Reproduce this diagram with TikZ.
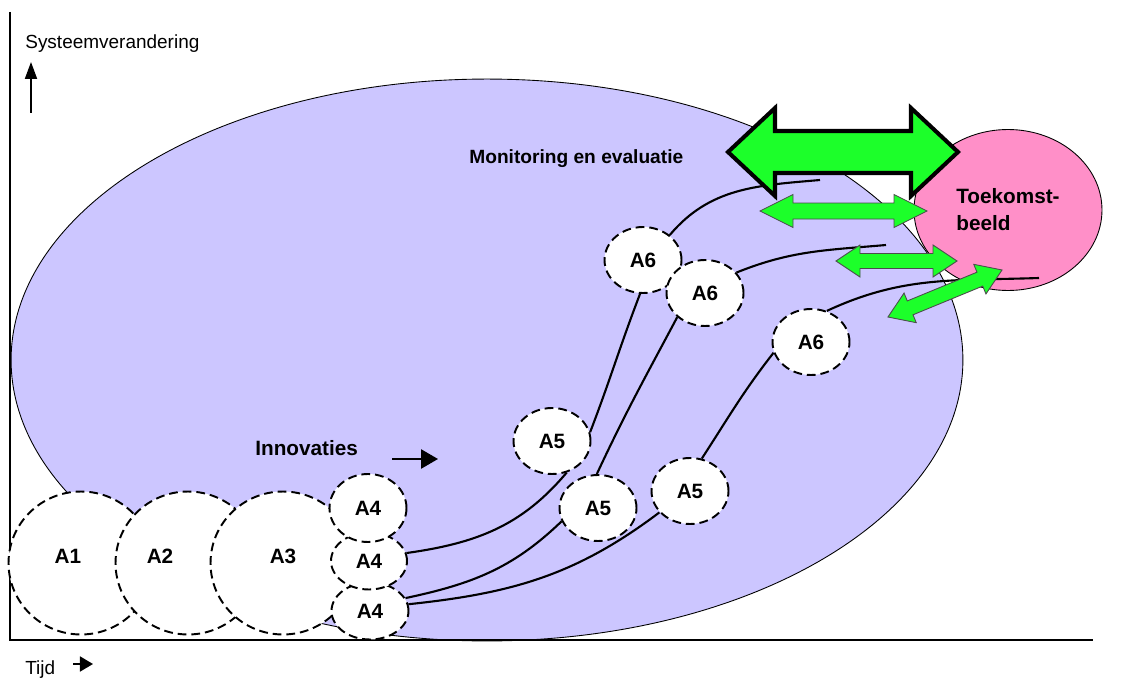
\documentclass[tikz,border=0pt]{standalone}
\usepackage{fontspec}
\setmainfont{Liberation Sans}
\usetikzlibrary{shapes.geometric, arrows.meta}

\definecolor{lilac}{RGB}{204,198,255}
\definecolor{rose}{RGB}{255,143,200}
\definecolor{neon}{RGB}{28,255,42}

% double headed block arrow: [style]{centre}{angle}{half length}{head length}{head half width}{shaft half width}
\newcommand{\dblarrow}[7][]{%
  \begin{scope}[shift={(#2)}, rotate=#3]
    \draw[#1] (-#4,0) -- ({-#4+#5},#6) -- ({-#4+#5},#7) -- ({#4-#5},#7) -- ({#4-#5},#6) -- (#4,0)
      -- ({#4-#5},-#6) -- ({#4-#5},-#7) -- ({-#4+#5},-#7) -- ({-#4+#5},-#6) -- cycle;
  \end{scope}}

\begin{document}
\begin{tikzpicture}[x=0.02cm, y=-0.02cm,
  act/.style={ellipse, draw, fill=white, line width=1.1pt, dash pattern=on 5pt off 2.8pt,
    inner sep=0pt, font=\fontsize{11.8}{14}\selectfont\bfseries},
  circbig/.style={act, minimum width=2.9cm, minimum height=2.86cm},
  circsmall/.style={act, minimum width=1.54cm, minimum height=1.32cm},
  lbl/.style={font=\fontsize{11.8}{14}\selectfont\bfseries},
  txt/.style={font=\fontsize{10.8}{13}\selectfont, anchor=base west, inner sep=0pt},
  axisline/.style={line width=1.6pt},
  track/.style={line width=1.2pt},
  greenarrow/.style={fill=neon, draw=black!70, line width=0.5pt},
  bigarrow/.style={fill=neon, draw=black, line width=2.3pt, line join=miter}]

  \useasboundingbox (0,0) rectangle (1123,679);

  \coordinate (o) at (10,640); % origin
  \coordinate (ytop) at (10,12); % top of vertical axis
  \coordinate (xend) at (1093,640); % end of time axis
  \coordinate (e1) at (820,180); % ends of the transition paths
  \coordinate (e2) at (886,245);
  \coordinate (e3) at (1039,278);

  % system field and future image
  \draw[fill=lilac, line width=0.5pt] (487,360) ellipse [x radius=9.52cm, y radius=5.62cm];
  \node[ellipse, draw, fill=rose, line width=0.5pt, minimum width=3.76cm, minimum height=3.22cm,
    inner sep=0pt, align=left, font=\fontsize{11.8}{15.3}\selectfont\bfseries] (tb) at (1008,210) {Toekomst-\\beeld};

  % axes
  \draw[axisline] (ytop) -- (o) -- (xend);
  \node[txt] (sv) at (25,49) {Systeemverandering};
  \node[txt] (tijd) at (25,674) {Tijd};
  \coordinate (up0) at (31,113);
  \coordinate (up1) at (31,62);
  \draw[line width=1.1pt, -{Triangle[length=9.6pt, width=6.8pt]}] (up0) -- (up1);
  \coordinate (rt0) at (73,664);
  \coordinate (rt1) at (93,664);
  \draw[line width=1.1pt, -{Triangle[length=7.4pt, width=8.5pt]}] (rt0) -- (rt1);

  % first steps
  \node[circbig] (a1) at (81,563) {};
  \node[circbig] (a2) at (188,563) {};
  \node[circbig] (a3) at (283,563) {};
  \node[lbl] (l1) at (68,556) {A1};
  \node[lbl] (l2) at (160,556) {A2};
  \node[lbl] (l3) at (283,556) {A3};
  \node[act, minimum width=1.54cm, minimum height=1.14cm] (a4b) at (370,611) {A4};
  \node[act, minimum width=1.52cm, minimum height=1.14cm] (a4m) at (369,561) {A4};
  \node[act, minimum width=1.54cm, minimum height=1.36cm] (a4t) at (368,508) {A4};

  \node[circsmall] (a5a) at (552,441) {A5};
  \node[circsmall] (a5b) at (598,508) {A5};
  \node[circsmall] (a5c) at (690,491) {A5};
  \node[circsmall] (a6a) at (643,260) {A6};
  \node[circsmall] (a6b) at (705,293) {A6};
  \node[circsmall] (a6c) at (811,342) {A6};

  \node[font=\fontsize{11.8}{14}\selectfont\bfseries, anchor=base west, inner sep=0pt] (inn) at (255,455) {Innovaties};
  \coordinate (in0) at (392,459);
  \coordinate (in1) at (438,459);
  \draw[line width=1.3pt, -{Triangle[length=9.6pt, width=10.8pt]}] (in0) -- (in1);
  \node[font=\fontsize{10.9}{13}\selectfont\bfseries, anchor=base west, inner sep=0pt] (mon) at (469,164) {Monitoring en evaluatie};

  % transition paths
  \draw[track] (a4m.12) to[out=8, in=-130] (a5a.-65);
  \draw[track] (a5a.13) to[out=69, in=-111] (a6a.-95);
  \draw[track] (a6a.43) to[out=50, in=185] (e1);

  \draw[track] (a4b.20) to[out=12, in=-136] (a5b.-160);
  \draw[track] (a5b.92) to[out=65, in=-118] (a6b.-139);
  \draw[track] (a6b.33) to[out=22, in=185] (e2);

  \draw[track] (a4b.10) to[out=6, in=-143] (a5c.-145);
  \draw[track] (a5c.70) to[out=57, in=-128] (a6c.-164);
  \draw[track] (a6c.63) to[out=25, in=182] (e3);

  % feedback arrows
  \dblarrow[bigarrow]{843,152}{0}{115}{47}{44}{21}
  \dblarrow[greenarrow]{843.5,211}{0}{83.5}{33}{16.5}{8}
  \dblarrow[greenarrow]{896.5,261}{0}{60.5}{24}{16}{7.5}
  \dblarrow[greenarrow]{945,293.5}{22.4}{61.7}{24}{16}{7.5}
\end{tikzpicture}
\end{document}
